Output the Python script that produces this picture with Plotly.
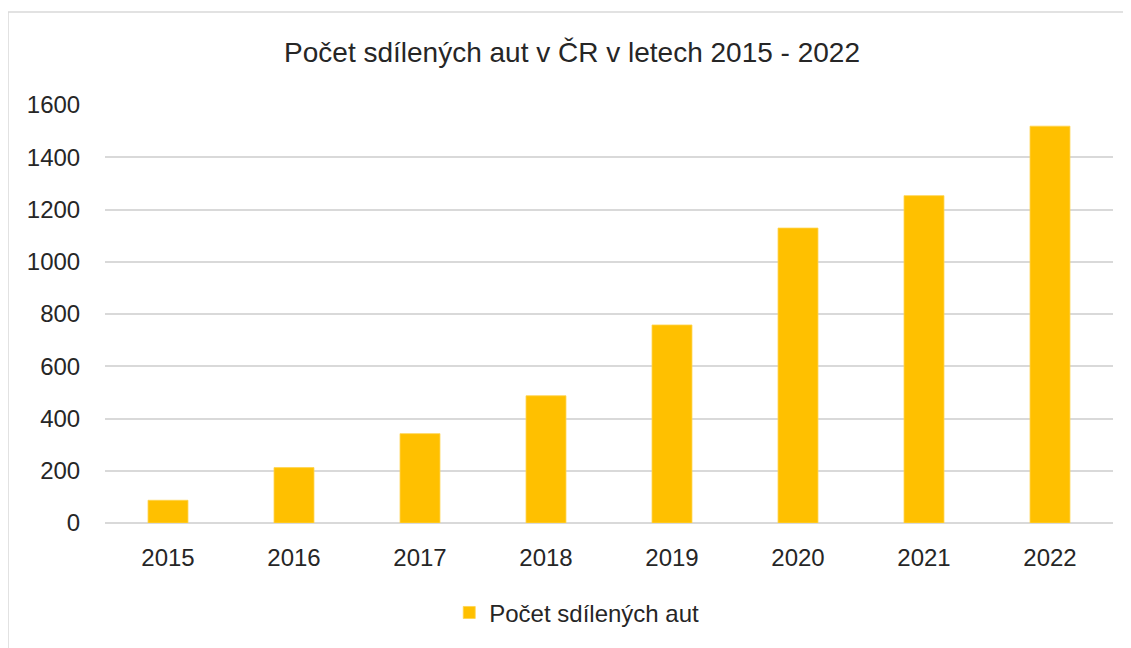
import plotly.graph_objects as go

years = ["2015", "2016", "2017", "2018", "2019", "2020", "2021", "2022"]
cars = [87, 212, 342, 487, 758, 1129, 1253, 1519]
series_name = "Počet sdílených aut"
title_text = "Počet sdílených aut v ČR v letech 2015 - 2022"
y_ticks = [0, 200, 400, 600, 800, 1000, 1200, 1400, 1600]

FONT = "Liberation Sans"

fig = go.Figure()
fig.add_trace(go.Bar(x=years, y=cars, name=series_name,
                     marker=dict(color="#FFC000", line=dict(color="#FFD34D", width=0.8))))

fig.update_layout(
    width=1131, height=648,
    margin=dict(l=97, r=26, t=97, b=133),
    paper_bgcolor="white", plot_bgcolor="white",
    title=dict(text=title_text, x=0.4987, xref="container", xanchor="center",
               y=1 - 44/648, yanchor="middle", yref="container",
               font=dict(family=FONT, size=28, color="#262626")),
    bargap=0.683,
    showlegend=True,
    legend=dict(orientation="h", x=0.468, xanchor="center", y=-0.215, yanchor="middle",
                font=dict(family=FONT, size=24, color="#262626")),
    font=dict(family=FONT, color="#262626"),
)
fig.update_xaxes(showgrid=False, showline=False, ticks="outside", ticklen=13, tickcolor="rgba(0,0,0,0)",
                 tickfont=dict(family=FONT, size=24, color="#262626"))
fig.update_yaxes(range=[0, 1600], tickvals=y_ticks, showgrid=True, gridcolor="#d9d9d9", gridwidth=1.5,
                 zeroline=True, zerolinecolor="#d9d9d9", zerolinewidth=1.5,
                 ticks="outside", ticklen=19, tickcolor="rgba(0,0,0,0)",
                 tickfont=dict(family=FONT, size=24, color="#262626"))

# chart border
fig.add_shape(type="rect", xref="paper", yref="paper",
              x0=-97/1008, x1=1.2, y0=-0.5, y1=(515-4)/418,
              line=dict(color="#d9d9d9", width=1.5), fillcolor="rgba(0,0,0,0)", layer="below")

fig.write_html("out.html")
